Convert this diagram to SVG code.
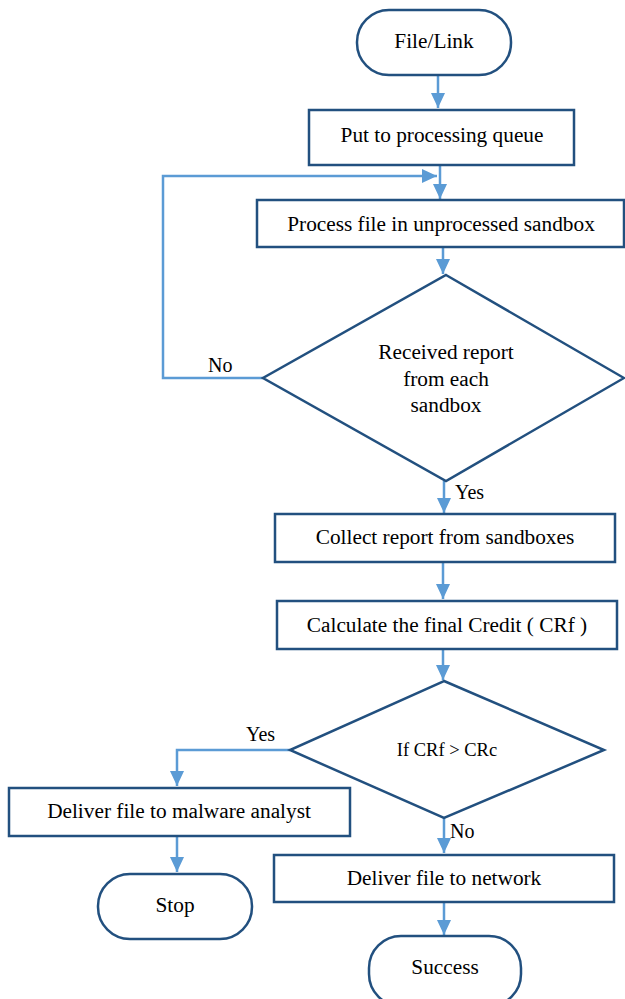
<svg xmlns="http://www.w3.org/2000/svg" width="625" height="999" viewBox="0 0 625 999">
<style>
.n{fill:#fff;stroke:#22507f;stroke-width:2.5}
text{font-family:'Liberation Serif','Times New Roman',Times,serif;fill:#000}
.t{font-size:21.3px;text-anchor:middle;dominant-baseline:central}
.s{font-size:18.5px}
.c{fill:none;stroke:#5b9bd5;stroke-width:2.5}
.l{font-size:20px}
</style>
<defs>
<marker id="a" markerUnits="userSpaceOnUse" markerWidth="16" markerHeight="16" viewBox="0 0 16 16" refX="15" refY="8" orient="auto">
<path d="M0,1 L15,8 L0,15 Z" fill="#5b9bd5"/>
</marker>
</defs>
<g id="connectors">
<path class="c" d="M438,75 V108" marker-end="url(#a)"/>
<path class="c" d="M440,165 V199" marker-end="url(#a)"/>
<path class="c" d="M263,378 H163 V176 H437" marker-end="url(#a)"/>
<path class="c" d="M443,247 V274" marker-end="url(#a)"/>
<path class="c" d="M444,481 V513" marker-end="url(#a)"/>
<path class="c" d="M443,562 V599" marker-end="url(#a)"/>
<path class="c" d="M443,649 V680" marker-end="url(#a)"/>
<path class="c" d="M290,750 H177 V786" marker-end="url(#a)"/>
<path class="c" d="M177,836 V872" marker-end="url(#a)"/>
<path class="c" d="M444,818 V853" marker-end="url(#a)"/>
<path class="c" d="M444,902 V935" marker-end="url(#a)"/>
<text class="l" x="208" y="372">No</text>
<text class="l" x="455" y="499">Yes</text>
<text class="l" x="246" y="741">Yes</text>
<text class="l" x="450" y="838">No</text>
</g>
<g id="start"><rect class="n" x="357" y="10" width="154" height="65" rx="32"/><text class="t" x="434" y="41">File/Link</text></g>
<g id="queue"><rect class="n" x="309" y="110" width="265" height="55"/><text class="t" x="442" y="135">Put to processing queue</text></g>
<g id="process"><rect class="n" x="257" y="200" width="367" height="47"/><text class="t" x="441" y="224">Process file in unprocessed sandbox</text></g>
<g id="received"><polygon class="n" points="446,275 624,378 446,481 263,378"/><text class="t" x="446" y="352">Received report</text><text class="t" x="446" y="379">from each</text><text class="t" x="446" y="405">sandbox</text></g>
<g id="collect"><rect class="n" x="275" y="514" width="340" height="48"/><text class="t" x="445" y="537">Collect report from sandboxes</text></g>
<g id="calc"><rect class="n" x="277" y="601" width="340" height="48"/><text class="t" x="447" y="625">Calculate the final Credit ( CRf )</text></g>
<g id="compare"><polygon class="n" points="444,681 604,750 444,818 290,750"/><text class="t s" x="447" y="750">If CRf &gt; CRc</text></g>
<g id="analyst"><rect class="n" x="9" y="788" width="341" height="48"/><text class="t" x="179" y="811">Deliver file to malware analyst</text></g>
<g id="stop"><rect class="n" x="98" y="874" width="154" height="65" rx="32"/><text class="t" x="175" y="905">Stop</text></g>
<g id="network"><rect class="n" x="274" y="855" width="340" height="47"/><text class="t" x="444" y="878">Deliver file to network</text></g>
<g id="success"><rect class="n" x="369" y="936" width="152" height="70" rx="32"/><text class="t" x="445" y="967">Success</text></g>
</svg>
